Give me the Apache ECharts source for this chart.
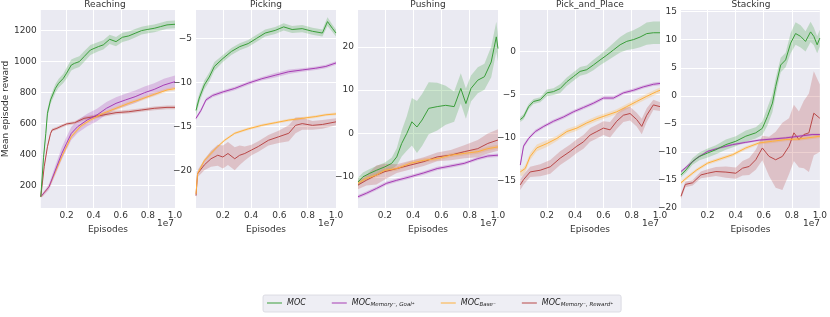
<!DOCTYPE html>
<html><head><meta charset="utf-8">
<script src="https://cdn.jsdelivr.net/npm/echarts@6/dist/echarts.min.js"></script>
<style>html,body{margin:0;padding:0;background:#fff}#c{width:830px;height:317px}</style>
</head><body><div id="c"></div>
<script>
// ---- categories / labels ----
const panelTitles = ['Reaching', 'Picking', 'Pushing', 'Pick_and_Place', 'Stacking'];
const seriesNames = ['MOC', 'MOC_MG', 'MOC_B', 'MOC_MR'];
const xTicks = [0.2, 0.4, 0.6, 0.8, 1.0];
const yTicksReaching = [200, 400, 600, 800, 1000, 1200];
const yTicksPicking = [-20, -15, -10, -5];
const yTicksPushing = [-10, 0, 10, 20];
const yTicksPickPlace = [-15, -10, -5, 0];
const yTicksStacking = [-20, -15, -10, -5, 0, 5, 10, 15];
const yRanges = [[56, 1333], [-24.3, -1.78], [-17.2, 28.5], [-18.2, 4.85], [-20, 15.3]];

// ---- series values: [episodes (1e7), mean reward, std] ----
const reachingMOC = [[0.01,129,10],[0.03,380,20],[0.047,537,22],[0.059,667,25],[0.082,753,25],[0.118,828,28],[0.141,860,28],[0.176,892,30],[0.2,925,35],[0.235,978,35],[0.259,989,35],[0.294,1000,35],[0.329,1032,35],[0.376,1075,32],[0.435,1097,30],[0.471,1108,30],[0.518,1144,30],[0.565,1129,30],[0.612,1157,30],[0.659,1166,28],[0.706,1183,28],[0.753,1200,25],[0.8,1208,25],[0.847,1215,25],[0.894,1226,25],[0.941,1237,25],[1.0,1241,25]];
const reachingMG = [[0.01,129,5],[0.024,140,10],[0.071,193,20],[0.118,301,30],[0.165,408,40],[0.2,473,42],[0.235,537,42],[0.282,581,42],[0.353,624,40],[0.424,656,40],[0.494,699,40],[0.565,731,40],[0.635,753,40],[0.706,774,40],[0.776,800,40],[0.847,821,40],[0.918,849,40],[1.0,871,40]];
const reachingB = [[0.01,129,5],[0.024,140,8],[0.071,193,10],[0.118,290,10],[0.165,387,12],[0.235,516,12],[0.306,585,12],[0.376,624,12],[0.471,667,12],[0.565,699,12],[0.659,731,12],[0.753,759,12],[0.847,789,12],[0.941,817,12],[1.0,826,12]];
const reachingMR = [[0.01,129,5],[0.035,322,10],[0.059,451,10],[0.082,537,10],[0.094,559,10],[0.129,570,10],[0.165,585,10],[0.2,598,10],[0.259,606,10],[0.329,634,12],[0.4,645,12],[0.471,656,12],[0.565,671,12],[0.659,677,12],[0.753,688,12],[0.847,699,12],[0.941,705,12],[1.0,705,12]];

const pickingMOC = [[0.01,-13.2,0.6],[0.033,-11.8,0.5],[0.069,-10.3,0.5],[0.104,-9.4,0.5],[0.14,-8.2,0.5],[0.2,-7.3,0.4],[0.26,-6.5,0.4],[0.319,-5.95,0.4],[0.379,-5.6,0.4],[0.439,-5.0,0.4],[0.499,-4.4,0.4],[0.57,-4.1,0.4],[0.63,-3.7,0.4],[0.69,-4.0,0.4],[0.761,-3.9,0.4],[0.833,-4.2,0.4],[0.904,-4.4,0.4],[0.94,-3.1,0.5],[0.976,-3.9,0.4],[1.0,-4.4,0.4]];
const pickingMG = [[0.01,-14.1,0.2],[0.045,-13.2,0.2],[0.081,-12.0,0.2],[0.128,-11.5,0.2],[0.2,-11.1,0.2],[0.284,-10.7,0.2],[0.379,-10.1,0.2],[0.475,-9.6,0.2],[0.57,-9.2,0.25],[0.666,-8.8,0.25],[0.761,-8.6,0.2],[0.857,-8.4,0.2],[0.928,-8.2,0.2],[1.0,-7.8,0.2]];
const pickingB = [[0.01,-22.7,0.2],[0.021,-20.4,0.2],[0.069,-18.9,0.2],[0.116,-18.1,0.2],[0.164,-17.3,0.15],[0.212,-16.6,0.15],[0.284,-15.8,0.15],[0.379,-15.3,0.15],[0.475,-14.9,0.15],[0.57,-14.6,0.15],[0.666,-14.3,0.15],[0.761,-14.1,0.15],[0.857,-13.9,0.15],[0.928,-13.7,0.15],[1.0,-13.6,0.15]];
const pickingMR = [[0.01,-22.9,0.3],[0.021,-20.4,0.4],[0.069,-19.4,0.6],[0.116,-18.7,0.9],[0.164,-18.3,1.2],[0.2,-18.5,1.3],[0.236,-18.1,1.3],[0.284,-18.7,1.3],[0.319,-18.3,1.1],[0.355,-18.1,0.8],[0.403,-17.7,0.6],[0.451,-17.3,0.6],[0.522,-16.6,0.6],[0.594,-16.2,0.7],[0.666,-15.8,0.9],[0.714,-14.9,0.9],[0.761,-14.7,0.7],[0.833,-14.9,0.5],[0.904,-14.8,0.5],[1.0,-14.5,0.4]];

const pushingMOC = [[0.01,-11.2,1.0],[0.045,-10,1],[0.093,-9.2,1],[0.14,-8.5,1],[0.2,-7.7,1],[0.248,-6.9,1.3],[0.284,-5.4,2],[0.319,-2.3,3],[0.355,0,4],[0.391,2.7,5.5],[0.427,1.5,6],[0.463,3.1,6],[0.51,5.8,6],[0.57,6.2,5.5],[0.63,6.5,4.5],[0.69,6.2,3.5],[0.737,10.4,3.5],[0.773,6.9,3.5],[0.809,10.4,3],[0.857,12.3,3],[0.904,13.1,3],[0.952,16.5,3.5],[0.988,22.3,3.5],[1.0,19.6,3]];
const pushingMG = [[0.01,-14.6,0.4],[0.069,-13.8,0.4],[0.14,-12.7,0.4],[0.212,-11.5,0.4],[0.284,-10.8,0.4],[0.379,-10.0,0.4],[0.475,-9.1,0.4],[0.57,-8.1,0.4],[0.666,-7.5,0.4],[0.761,-6.9,0.4],[0.857,-5.8,0.4],[0.928,-5.2,0.4],[1.0,-5.0,0.4]];
const pushingB = [[0.01,-11.5,0.5],[0.069,-10.4,0.5],[0.14,-9.6,0.5],[0.2,-8.5,0.5],[0.284,-8.1,0.5],[0.379,-6.9,0.5],[0.475,-6.2,0.5],[0.57,-5.8,0.5],[0.666,-5.0,0.5],[0.761,-4.6,0.5],[0.857,-4.2,0.5],[0.928,-3.5,0.5],[1.0,-3.1,0.5]];
const pushingMR = [[0.01,-11.9,1],[0.069,-10.8,1.2],[0.14,-9.6,2.2],[0.2,-8.8,1.8],[0.284,-8.1,1],[0.379,-7.3,1],[0.475,-6.5,1],[0.57,-5.4,1],[0.666,-5.0,1.2],[0.761,-4.2,1.5],[0.857,-3.5,2],[0.928,-2.3,2.3],[1.0,-1.5,2.5]];

const pickPlaceMOC = [[0.012,-7.9,0.3],[0.035,-7.6,0.3],[0.071,-6.4,0.3],[0.106,-5.8,0.3],[0.153,-5.6,0.3],[0.2,-4.8,0.4],[0.247,-4.65,0.4],[0.294,-4.3,0.5],[0.341,-3.5,0.5],[0.388,-2.9,0.5],[0.435,-2.3,0.5],[0.482,-2.1,0.5],[0.529,-1.55,0.6],[0.576,-0.97,0.6],[0.624,-0.4,0.7],[0.671,0.2,0.8],[0.718,0.8,0.9],[0.765,1.2,1.0],[0.812,1.4,1.1],[0.859,1.7,1.2],[0.906,2.1,1.3],[0.953,2.2,1.3],[1.0,2.2,1.3]];
const pickPlaceMG = [[0.012,-13.2,0.3],[0.035,-11.0,0.25],[0.071,-10.1,0.2],[0.118,-9.3,0.2],[0.178,-8.7,0.2],[0.247,-8.1,0.2],[0.318,-7.6,0.2],[0.388,-7.0,0.2],[0.459,-6.5,0.2],[0.529,-6.0,0.2],[0.6,-5.4,0.2],[0.671,-5.4,0.2],[0.741,-4.8,0.2],[0.812,-4.5,0.2],[0.882,-4.1,0.2],[0.953,-3.8,0.2],[1.0,-3.7,0.2]];
const pickPlaceB = [[0.012,-14.0,0.4],[0.024,-14.1,0.4],[0.047,-13.6,0.4],[0.082,-12.2,0.4],[0.129,-11.2,0.4],[0.2,-10.7,0.4],[0.271,-10.1,0.3],[0.341,-9.3,0.3],[0.412,-8.9,0.3],[0.482,-8.3,0.3],[0.553,-7.8,0.3],[0.624,-7.4,0.3],[0.694,-7.0,0.3],[0.765,-6.4,0.3],[0.835,-5.8,0.3],[0.906,-5.2,0.3],[0.976,-4.65,0.3],[1.0,-4.5,0.3]];
const pickPlaceMR = [[0.012,-15.5,0.6],[0.035,-14.9,0.6],[0.082,-14.0,0.6],[0.153,-13.8,0.7],[0.224,-13.4,0.8],[0.294,-12.4,0.8],[0.365,-11.6,0.8],[0.412,-11.0,0.8],[0.459,-10.5,0.8],[0.506,-9.7,0.8],[0.553,-9.3,0.8],[0.6,-8.9,0.8],[0.647,-9.1,0.9],[0.694,-8.1,0.9],[0.741,-7.4,0.8],[0.788,-7.2,0.8],[0.835,-7.9,0.8],[0.871,-8.7,0.9],[0.906,-7.4,0.8],[0.953,-6.2,0.6],[1.0,-6.4,0.5]];

const stackingMOC = [[0.01,-14.1,0.4],[0.046,-13.2,0.5],[0.093,-11.7,0.6],[0.141,-10.8,0.7],[0.2,-10.2,0.8],[0.259,-9.6,0.8],[0.33,-8.7,0.9],[0.401,-8.1,0.9],[0.472,-7.2,1.0],[0.543,-6.6,1.0],[0.59,-5.8,1.2],[0.626,-3.7,1.6],[0.662,-1.3,1.6],[0.685,1.65,1.5],[0.721,5.5,1.3],[0.756,6.4,1.3],[0.792,9.4,1.8],[0.827,11.1,2],[0.863,10.6,2],[0.898,9.7,1.8],[0.934,11.4,1.8],[0.957,10.6,1.6],[0.981,9.1,1.5],[1.0,10.3,1.5]];
const stackingMG = [[0.01,-13.5,0.2],[0.052,-12.6,0.2],[0.123,-11.1,0.2],[0.2,-9.9,0.2],[0.283,-9.3,0.2],[0.378,-8.7,0.2],[0.472,-8.3,0.2],[0.567,-7.9,0.2],[0.662,-7.7,0.2],[0.756,-7.5,0.2],[0.851,-7.2,0.2],[0.945,-6.9,0.2],[1.0,-6.9,0.2]];
const stackingB = [[0.01,-15.5,0.3],[0.052,-14.6,0.3],[0.123,-13.2,0.3],[0.2,-12.0,0.3],[0.283,-11.3,0.3],[0.378,-10.5,0.3],[0.472,-9.3,0.3],[0.567,-8.4,0.3],[0.662,-8.1,0.3],[0.756,-7.8,0.3],[0.851,-7.7,0.3],[0.945,-7.4,0.3],[1.0,-7.2,0.3]];
const stackingMR = [[0.01,-17.9,0.5],[0.041,-15.8,0.5],[0.093,-15.5,0.5],[0.152,-14.1,0.6],[0.2,-13.8,0.7],[0.259,-13.5,0.8],[0.33,-13.6,1.0],[0.401,-13.8,1.0],[0.449,-12.9,1.3],[0.496,-12.6,1.5],[0.543,-11.4,1.8],[0.59,-9.3,2.2],[0.638,-10.8,3.5],[0.685,-11.4,5],[0.733,-10.8,6],[0.78,-9.0,5],[0.815,-6.6,5],[0.851,-7.8,5],[0.886,-6.9,6],[0.922,-6.6,7],[0.957,-3.1,7.5],[1.0,-4.0,6]];

const panelData = [
  [reachingMOC, reachingMG, reachingB, reachingMR],
  [pickingMOC, pickingMG, pickingB, pickingMR],
  [pushingMOC, pushingMG, pushingB, pushingMR],
  [pickPlaceMOC, pickPlaceMG, pickPlaceB, pickPlaceMR],
  [stackingMOC, stackingMG, stackingB, stackingMR]
];
const yTicks = [yTicksReaching, yTicksPicking, yTicksPushing, yTicksPickPlace, yTicksStacking];

// ---- styling ----
const colors = ['#3a9e3a', '#a63db4', '#ffb03c', '#b94848'];
const lefts = [35, 196, 358, 520, 681];
const plotW = 140, plotTop = 10, plotH = 198;
const txt = '#333';
const font = 'DejaVu Sans';
const fs = 9;

const chart = echarts.init(document.getElementById('c'), null, {renderer: 'canvas'});
const grid = [], xAxis = [], yAxis = [], series = [], title = [], graphic = [];

for (let p = 0; p < 5; p++) {
  grid.push({left: lefts[p], top: plotTop, width: plotW, height: plotH, show: true,
    backgroundColor: '#eaeaf2', borderWidth: 0});
  title.push({text: panelTitles[p], left: lefts[p] + plotW / 2, top: 0, textAlign: 'center', padding: 0,
    textStyle: {fontSize: fs, fontWeight: 'normal', color: txt, fontFamily: font}});
  xAxis.push({type: 'value', gridIndex: p, min: 0.01, max: 1.0,
    name: 'Episodes', nameLocation: 'middle', nameGap: 10,
    nameTextStyle: {fontSize: fs, color: txt, fontFamily: font},
    axisLine: {show: false}, axisTick: {show: false, customValues: xTicks},
    axisLabel: {customValues: xTicks, fontSize: fs, color: txt, fontFamily: font, margin: 3,
      formatter: v => v.toFixed(1)},
    splitLine: {show: true, lineStyle: {color: '#ffffff', width: 1}}});
  yAxis.push({type: 'value', gridIndex: p, min: yRanges[p][0], max: yRanges[p][1],
    name: p === 0 ? 'Mean episode reward' : '', nameLocation: 'middle', nameGap: 27,
    nameTextStyle: {fontSize: fs, color: txt, fontFamily: font},
    axisLine: {show: false}, axisTick: {show: false, customValues: yTicks[p]},
    axisLabel: {customValues: yTicks[p], fontSize: fs, color: txt, fontFamily: font, margin: 4,
      formatter: v => String(v).replace('-', '\u2212')},
    splitLine: {show: true, lineStyle: {color: '#ffffff', width: 1}}});
  graphic.push({type: 'text', left: lefts[p] + plotW - 18, top: 219,
    style: {text: '1e7', fontSize: fs, fill: txt, fontFamily: font}});

  panelData[p].forEach((arr, s) => {
    series.push({type: 'custom', name: 'band' + p + s, xAxisIndex: p, yAxisIndex: p, clip: true,
      silent: true, z: 1,
      data: [[arr[0][0], arr[0][1]]],
      renderItem: (params, api) => {
        const up = arr.map(d => api.coord([d[0], d[1] + d[2]]));
        const lo = arr.slice().reverse().map(d => api.coord([d[0], d[1] - d[2]]));
        return {type: 'polygon', shape: {points: up.concat(lo)},
          style: {fill: colors[s], opacity: 0.25}};
      }});
  });
  const order = [3, 2, 1, 0];
  order.forEach(s => {
    series.push({type: 'line', name: seriesNames[s], xAxisIndex: p, yAxisIndex: p, z: 3,
      data: panelData[p][s].map(d => [d[0], d[1]]), showSymbol: false, symbol: 'none',
      lineStyle: {color: colors[s], width: 1}, itemStyle: {color: colors[s]}, animation: false});
  });
}

const legendRich = {
  m: {fontSize: 8, fontStyle: 'italic', color: '#222', fontFamily: font},
  s: {fontSize: 5.5, fontStyle: 'italic', color: '#222', fontFamily: font, padding: [4, 0, 0, 0]}
};
const legendLabels = {
  'MOC': '{m|MOC}',
  'MOC_MG': '{m|MOC}{s|Memory⁻, Goal⁺}',
  'MOC_B': '{m|MOC}{s|Base⁻}',
  'MOC_MR': '{m|MOC}{s|Memory⁻, Reward⁺}'
};

chart.setOption({
  animation: false,
  backgroundColor: '#ffffff',
  title, grid, xAxis, yAxis, series, graphic,
  legend: {data: seriesNames, left: 263, top: 295, icon: 'rect', itemWidth: 15, itemHeight: 1,
    itemGap: 26, padding: [4, 8, 4, 4], backgroundColor: '#eeeef4', borderColor: '#d6d6de', borderWidth: 0.8,
    borderRadius: 2, selectedMode: false,
    formatter: n => legendLabels[n], textStyle: {rich: legendRich, fontSize: 8}}
});
</script></body></html>
